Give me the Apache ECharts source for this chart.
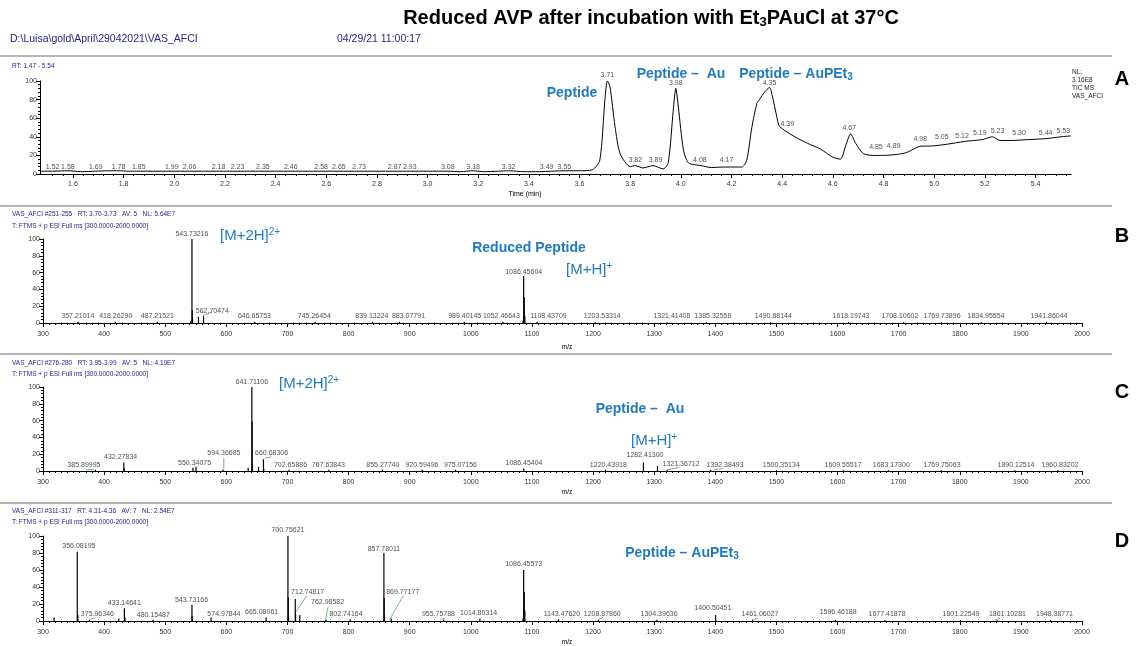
<!DOCTYPE html>
<html>
<head>
<meta charset="utf-8">
<title>Reduced AVP</title>
<script src="https://cdn.jsdelivr.net/npm/echarts@6/dist/echarts.min.js"></script>
<style>html,body{margin:0;padding:0;background:#fff;}</style>
</head>
<body>
<div id="main" style="width:1137px;height:646px;"></div>
<script>
var chart = echarts.init(document.getElementById('main'));

var FONT = '"Liberation Sans", Arial, sans-serif';
var BLUE = '#1f7ac4';
var NAVY = '#25258c';
var GREEN = '#6cc06c';

// ---- A: TIC chromatogram ----
var ticTime  = [1.47,1.52,1.58,1.63,1.69,1.74,1.78,1.82,1.85,1.92,1.99,2.06,2.12,2.18,2.23,2.29,2.35,2.40,2.46,2.52,2.58,2.65,2.73,2.80,2.87,2.93,3.00,3.08,3.13,3.18,3.22,3.28,3.32,3.38,3.44,3.49,3.55,3.60,3.65,3.68,3.70,3.71,3.72,3.74,3.76,3.80,3.82,3.85,3.89,3.93,3.95,3.97,3.98,3.99,4.01,4.03,4.08,4.12,4.17,4.24,4.26,4.28,4.30,4.31,4.33,4.35,4.36,4.38,4.39,4.45,4.50,4.55,4.60,4.63,4.65,4.67,4.69,4.72,4.76,4.80,4.85,4.89,4.95,4.98,5.05,5.12,5.19,5.23,5.26,5.30,5.37,5.44,5.50,5.54];
var ticAbund = [3,3,3.5,2.5,3,3.5,3.5,3,3,3,3,3,3,3,3,3,3,3,3,3,3,3,3,3,3,3,3,3,2.5,3.5,2.5,3,3.5,2.5,2.5,3,3.5,3.5,4.5,15,80,100,94,51,22,8,9,6.5,9,5.5,12,69,92,72,26,12,9,7,7.5,7.5,15,50,76,80,88,93,85,60,51,40,33,27,18,16,30,43,33,22,20,20,21,23,30,30,32,35,37,40,36,36,37,38,40,41];
var ticPeakRt = ['1.52','1.58','1.69','1.78','1.85','1.99','2.06','2.18','2.23','2.35','2.46','2.58','2.65','2.73','2.87','2.93','3.08','3.18','3.32','3.49','3.55','3.71','3.82','3.89','3.98','4.08','4.17','4.35','4.39','4.67','4.85','4.89','4.98','5.05','5.12','5.19','5.23','5.30','5.44','5.53'];
// where each RT label sits along the axis (min)
var ticPeakX  = [1.52,1.58,1.69,1.78,1.86,1.99,2.06,2.175,2.25,2.35,2.46,2.58,2.65,2.73,2.87,2.93,3.08,3.18,3.32,3.47,3.54,3.71,3.82,3.90,3.98,4.075,4.18,4.35,4.42,4.665,4.77,4.84,4.945,5.03,5.11,5.18,5.25,5.335,5.44,5.51];
var ticPeakY  = [7.5,7.5,7.5,7.5,7.5,7.5,7.5,7.5,7.5,7.5,7.5,7.5,7.5,7.5,7.5,7.5,7.5,7.5,7.5,7.5,7.5,106,15,15,98,15,15,98,54,49,29,30,37.5,40,41,44,46,44,44,46];
var rtTicks = ['1.6','1.8','2.0','2.2','2.4','2.6','2.8','3.0','3.2','3.4','3.6','3.8','4.0','4.2','4.4','4.6','4.8','5.0','5.2','5.4'];

// ---- B: spectrum RT 3.70-3.73 ----
var mzB  = [357.21,418.26,487.22,541.7,543.73,544.23,544.73,554.3,562.70,646.66,745.26,839.13,883.08,989.40,1052.47,1085.45,1086.46,1087.46,1088.46,1108.44,1203.53,1321.41,1385.33,1490.88,1618.20,1708.11,1769.74,1834.96,1941.86];
var intB = [1.5,1.5,1.5,2,100,15,5,7.5,8,1.5,1.5,1.5,1.5,1.5,1.5,3,56,31,8,1.5,1,1,1,1,1,1,1,1,1];
var lblB  = ['357.21014','418.26290','487.21521','543.73216','562.70474','646.65753','745.26454','839.13224','883.07791','989.40145','1052.46643','1086.45604','1108.43709','1203.53314','1321.41408','1385.32558','1490.88144','1618.19743','1708.10602','1769.73896','1834.95554','1941.86044'];
var lblBx = [357,419,487,543.7,577,646,744,838,898,990,1050,1086.5,1127,1215,1329,1396,1495,1622,1702,1771,1843,1946];
var lblBy = [8,8,8,106,14,8,8,8,8,8,8,61,8,8,8,8,8,8,8,8,8,8];
var leadB = [[562,9],[577,13]];

// ---- C: spectrum RT 3.95-3.99 ----
var mzC  = [385.90,432.28,433.28,545.3,550.34,594.37,635.7,641.71,642.21,642.71,652.7,660.68,661.2,702.66,767.64,855.28,920.59,975.07,1086.45,1220.44,1282.41,1305.4,1321.37,1392.38,1500.35,1609.56,1683.17,1769.75,1890.13,1960.83];
var intC = [1.5,10,3,4,5,1.5,4,100,59,7,5,14,3,1.5,1.5,1.5,1.5,1.5,3,1.5,10,6,1.5,1.5,1,1,1,1,1,1];
var lblC  = ['385.89995','432.27834','550.34075','594.36685','641.71106','660.68306','702.65886','767.63843','855.27740','920.59496','975.07156','1086.45404','1220.43918','1282.41300','1321.36712','1392.38493','1500.35134','1609.55517','1683.17300','1769.75063','1890.12514','1960.83202'];
var lblCx = [367,427,548,596,641.7,674,705,767,856,920,983,1087,1225,1285,1344,1416,1508,1609,1688,1771,1892,1964];
var lblCy = [6.5,16,10,21,105.5,21,7.5,7.5,7.5,7.5,7.5,9.5,7.5,19,8,7.5,7.5,7.5,7.5,7.5,7.5,7.5];
var leadC = [[595.8,1.5],[595.8,15.5],null,[663,15],[674,17],null,[370,1.5],[384,1.5],null,[1322,1.5],[1340,4],null,[1398,1.5],[1412,3]];

// ---- D: spectrum RT 4.31-4.36 ----
var mzD  = [318.1,356.08,357.08,375.96,424,433.15,434.15,480.15,543.73,544.23,574.98,665.08,700.76,701.26,701.76,712.75,713.25,720.2,762.99,802.74,857.78,858.28,858.78,869.77,955.76,1014.80,1085.45,1086.46,1087.46,1088.46,1143.48,1208.88,1304.40,1400.50,1461.06,1596.46,1677.42,1801.23,1861.10,1948.39];
var intD = [4,81.5,7,1.5,3,15,4,1.5,19,6,4,4,100,28,5,26,8,7,1.5,2,80,27,5,3,1.5,3,3,60,34,12,2,1,1.5,7,1,1.5,1,1,1,1];
var lblD  = ['356.08195','375.96346','433.14641','480.15487','543.73166','574.97844','665.08061','700.75621','712.74817','762.98582','802.74164','857.78011','869.77177','955.75788','1014.80314','1086.45573','1143.47620','1208.87860','1304.39636','1400.50451','1461.06027','1596.46188','1677.41878','1801.22549','1861.10281','1948.38771'];
var lblDx = [358.7,389,433,480.5,543,596,657.7,700.8,733,765.6,795.8,857.8,888.6,947,1012.7,1086.5,1149,1215,1308,1396,1473,1601,1681,1802,1878,1955];
var lblDy = [88,8.7,21.6,7.5,25,8.7,10.6,107,34,22,8.7,85,34,8,9.5,66.5,8,8,8,15,8,10,8,8,8,8];
var leadD = [[712,9],[732,30],null,[762,1.5],[766.7,17],null,[867,1.5],[889.7,30],null,[378,2],[386,4],null,[950,1.5],[958,3],null,[1208,1.5],[1216,4],null,[1460,1.5],[1470,3],null,[1858,1.5],[1866,3]];

var mzTicks = ['300','400','500','600','700','800','900','1000','1100','1200','1300','1400','1500','1600','1700','1800','1900','2000'];

// minor ticks for the RT axis
var rtMinor = [];
for (var t = 152; t <= 552; t += 4) rtMinor.push(t / 100);

function pairs(xs, ys) {
  return xs.map(function (x, i) { return [x, ys[i]]; });
}
function labelData(texts, xs, ys) {
  return texts.map(function (s, i) {
    return { name: s, value: [xs ? xs[i] : parseFloat(s), ys[i]] };
  });
}
function leaderData(pts) {
  return pts.map(function (p) { return p ? p : ['-', '-']; });
}

var tickLbl = { fontSize: 7, color: '#333', fontFamily: FONT, margin: 3 };
var blackLine = { show: true, lineStyle: { color: '#000', width: 1 } };

function yAx(g) {
  return {
    gridIndex: g, type: 'value', min: 0, max: 100, interval: 20,
    axisLine: blackLine, splitLine: { show: false },
    axisTick: { show: true, length: 4, lineStyle: { color: '#000' } },
    minorTick: { show: true, splitNumber: 5, length: 2, lineStyle: { color: '#000' } },
    axisLabel: tickLbl
  };
}
function mzAx(g) {
  return {
    gridIndex: g, type: 'value', min: 300, max: 2000, interval: 100, position: 'bottom',
    axisLine: blackLine, splitLine: { show: false },
    axisTick: { show: true, length: 4, lineStyle: { color: '#000' } },
    minorTick: { show: true, splitNumber: 10, length: 2, lineStyle: { color: '#000' } },
    axisLabel: Object.assign({}, tickLbl, {
      margin: 8,
      customValues: mzTicks.map(Number),
      formatter: function (v) { return String(v); }
    })
  };
}
function sticks(ax, g, xs, ys) {
  return {
    type: 'bar', xAxisIndex: ax, yAxisIndex: g, barWidth: 1.2,
    itemStyle: { color: '#000' }, data: pairs(xs, ys), silent: true
  };
}
function peakLabels(ax, g, texts, xs, ys) {
  return {
    type: 'scatter', xAxisIndex: ax, yAxisIndex: g, symbolSize: 1, clip: false,
    itemStyle: { color: 'rgba(0,0,0,0)' },
    label: { show: true, position: 'inside', formatter: '{b}', fontSize: 7, color: '#222', fontFamily: FONT },
    data: labelData(texts, xs, ys), silent: true, z: 5
  };
}
function leaders(ax, g, pts) {
  return {
    type: 'line', xAxisIndex: ax, yAxisIndex: g, showSymbol: false, connectNulls: false,
    lineStyle: { color: GREEN, width: 1 }, data: leaderData(pts), silent: true, z: 1
  };
}

function txt(x, y, text, o) {
  return {
    type: 'text', x: x, y: y, silent: true,
    style: Object.assign({
      text: text, fontFamily: FONT, fontSize: 7, fill: '#000',
      align: 'left', verticalAlign: 'middle'
    }, o || {})
  };
}
function sep(y) {
  return { type: 'line', silent: true, shape: { x1: 0, y1: y, x2: 1112, y2: y }, style: { stroke: '#9c9c9c', lineWidth: 1.5 } };
}

var ann = { fontSize: 14, fontWeight: 'bold', fill: BLUE, align: 'center' };
var annRich = {
  t: { fontSize: 14, fontWeight: 'bold', fontFamily: FONT, lineHeight: 16 },
  s: { fontSize: 10, fontWeight: 'bold', fontFamily: FONT, lineHeight: 6, verticalAlign: 'bottom' }
};
var ionRich = {
  t: { fontSize: 15, fontFamily: FONT, lineHeight: 18 },
  p: { fontSize: 10, fontFamily: FONT, lineHeight: 8, verticalAlign: 'top' }
};

var graphics = [
  txt(651, 18, '{t|Reduced AVP after incubation with Et}{s|3}{t|PAuCl at 37°C}', {
    align: 'center', rich: {
      t: { fontSize: 20, fontWeight: 'bold', fontFamily: FONT, lineHeight: 22 },
      s: { fontSize: 13, fontWeight: 'bold', fontFamily: FONT, lineHeight: 9, verticalAlign: 'bottom' }
    }
  }),
  txt(10, 39, 'D:\\Luisa\\gold\\April\\29042021\\VAS_AFCI', { fontSize: 10.5, fill: NAVY }),
  txt(337, 39, '04/29/21 11:00:17', { fontSize: 10.5, fill: NAVY }),
  sep(56), sep(206), sep(354), sep(503),
  txt(12, 66, 'RT: 1.47 - 5.54', { fill: NAVY, fontSize: 6.5 }),
  txt(1072, 84, 'NL:\n3.16E8\nTIC MS\nVAS_AFCI', { fontSize: 6.5, lineHeight: 8, fill: '#222' }),
  txt(525, 194, 'Time (min)', { align: 'center' }),
  txt(12, 214, 'VAS_AFCI #251-255   RT: 3.70-3.73   AV: 5   NL: 5.64E7', { fill: NAVY, fontSize: 6.5 }),
  txt(12, 226, 'T: FTMS + p ESI Full ms [300.0000-2000.0000]', { fill: NAVY, fontSize: 6.5 }),
  txt(567, 347, 'm/z', { align: 'center', fontSize: 6.5 }),
  txt(12, 363, 'VAS_AFCI #276-280   RT: 3.95-3.99   AV: 5   NL: 4.19E7', { fill: NAVY, fontSize: 6.5 }),
  txt(12, 374, 'T: FTMS + p ESI Full ms [300.0000-2000.0000]', { fill: NAVY, fontSize: 6.5 }),
  txt(567, 492, 'm/z', { align: 'center', fontSize: 6.5 }),
  txt(12, 511, 'VAS_AFCI #311-317   RT: 4.31-4.36   AV: 7   NL: 2.54E7', { fill: NAVY, fontSize: 6.5 }),
  txt(12, 522, 'T: FTMS + p ESI Full ms [300.0000-2000.0000]', { fill: NAVY, fontSize: 6.5 }),
  txt(567, 642, 'm/z', { align: 'center', fontSize: 6.5 }),
  txt(1122, 79, 'A', { align: 'center', fontSize: 20, fontWeight: 'bold' }),
  txt(1122, 236, 'B', { align: 'center', fontSize: 20, fontWeight: 'bold' }),
  txt(1122, 392, 'C', { align: 'center', fontSize: 20, fontWeight: 'bold' }),
  txt(1122, 541, 'D', { align: 'center', fontSize: 20, fontWeight: 'bold' }),
  // blue annotations
  txt(572, 93, 'Peptide', ann),
  txt(681, 74, 'Peptide –  Au', ann),
  txt(796, 74, '{t|Peptide – AuPEt}{s|3}', Object.assign({}, ann, { rich: annRich })),
  txt(220, 236, '{t|[M+2H]}{p|2+}', { fill: BLUE, rich: ionRich }),
  txt(529, 248, 'Reduced Peptide', ann),
  txt(566, 270, '{t|[M+H]}{p|+}', { fill: BLUE, rich: ionRich }),
  txt(279, 384, '{t|[M+2H]}{p|2+}', { fill: BLUE, rich: ionRich }),
  txt(640, 409, 'Peptide –  Au', ann),
  txt(631, 441, '{t|[M+H]}{p|+}', { fill: BLUE, rich: ionRich }),
  txt(682, 553, '{t|Peptide – AuPEt}{s|3}', Object.assign({}, ann, { rich: annRich }))
];

var option = {
  animation: false,
  backgroundColor: '#fff',
  textStyle: { fontFamily: FONT },
  grid: [
    { left: 40, top: 81, width: 1031, height: 93 },
    { left: 43, top: 239, width: 1039, height: 84 },
    { left: 43, top: 387, width: 1039, height: 84 },
    { left: 43, top: 536, width: 1039, height: 85 }
  ],
  xAxis: [
    {
      gridIndex: 0, type: 'value', min: 1.47, max: 5.54, position: 'bottom',
      axisLine: blackLine, splitLine: { show: false },
      axisTick: { show: true, length: 4, customValues: rtTicks.map(Number), lineStyle: { color: '#000' } },
      axisLabel: Object.assign({}, tickLbl, { margin: 7, customValues: rtTicks.map(Number), formatter: function (v) { return v.toFixed(1); } })
    },
    {
      gridIndex: 0, type: 'value', min: 1.47, max: 5.54, position: 'bottom',
      axisLine: { show: false }, splitLine: { show: false },
      axisTick: { show: true, length: 2, customValues: rtMinor, lineStyle: { color: '#000' } },
      axisLabel: { show: false }
    },
    mzAx(1), mzAx(2), mzAx(3)
  ],
  yAxis: [yAx(0), yAx(1), yAx(2), yAx(3)],
  series: [
    {
      type: 'line', xAxisIndex: 0, yAxisIndex: 0, data: pairs(ticTime, ticAbund),
      showSymbol: false, smooth: 0.25, silent: true,
      lineStyle: { color: '#000', width: 1 }
    },
    peakLabels(0, 0, ticPeakRt, ticPeakX, ticPeakY),
    leaders(2, 1, leadB), sticks(2, 1, mzB, intB), peakLabels(2, 1, lblB, lblBx, lblBy),
    leaders(3, 2, leadC), sticks(3, 2, mzC, intC), peakLabels(3, 2, lblC, lblCx, lblCy),
    leaders(4, 3, leadD), sticks(4, 3, mzD, intD), peakLabels(4, 3, lblD, lblDx, lblDy)
  ],
  graphic: graphics
};
chart.setOption(option);
</script>
</body>
</html>
